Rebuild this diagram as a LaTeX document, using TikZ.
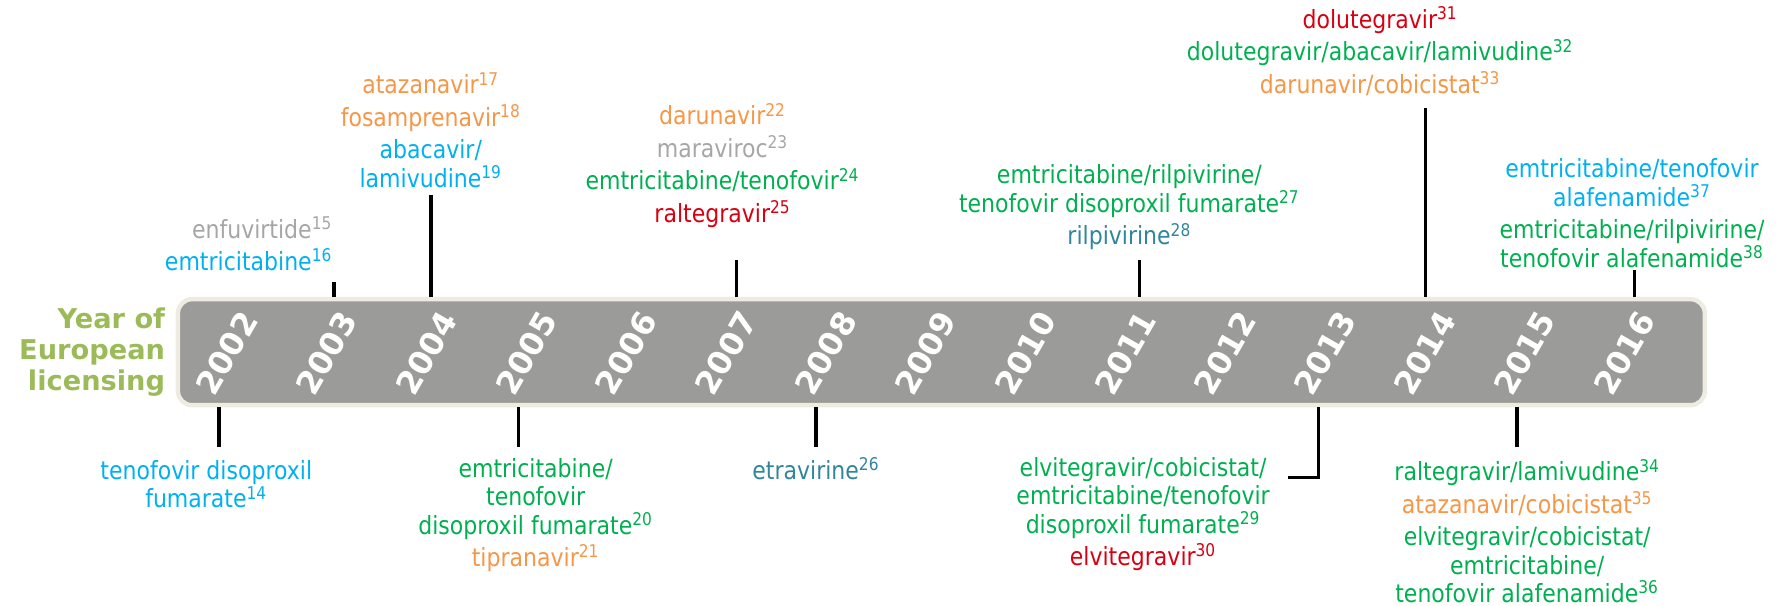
\documentclass[tikz,border=0pt]{standalone}
\usepackage{fontspec}
\setmainfont{DejaVu Sans}[FakeStretch=0.88]
\newfontfamily\headfont{DejaVu Sans}
\usepackage{xcolor}
\usetikzlibrary{positioning,calc}
\definecolor{nrti}{HTML}{00B0F0}
\definecolor{pi}{HTML}{F79646}
\definecolor{fdc}{HTML}{00B050}
\definecolor{insti}{HTML}{D80010}
\definecolor{nnrti}{HTML}{31859C}
\definecolor{ei}{HTML}{A6A6A6}
\definecolor{head}{HTML}{9BBB59}
\definecolor{bargray}{HTML}{9B9B9A}
\definecolor{rim}{HTML}{EEECE1}
\newcommand{\rf}[1]{\textsuperscript{#1}}
\newcommand{\drugsize}{\fontsize{12.5pt}{14.2pt}\selectfont}
\tikzset{
  drug/.style={align=center,inner sep=0pt,font=\drugsize},
  bar/.style={rectangle,draw=rim,line width=2.2pt,fill=bargray,rounded corners=7pt,minimum width=26.8cm,minimum height=1.86cm},
  yr/.style={rotate=60,text=white,font=\headfont\bfseries\fontsize{16pt}{16pt}\selectfont,inner sep=0pt},
  tk/.style={line width=1.7pt,black},
  head/.style={align=right,text=head,inner sep=0pt,font=\headfont\bfseries\fontsize{13.6pt}{15.4pt}\selectfont},
}

\begin{document}
\begin{tikzpicture}[x=0.02cm,y=-0.02cm]
  \useasboundingbox (0,0) rectangle (1568,531);
  \node[bar] (bar) at (826,309) {};
  \foreach \yr [count=\i from 0] in {2002,...,2016}
    \node[yr] (y\yr) at ({199+87.6*\i},310) {\yr};
  \node[head,left=0.18cm of bar] (head) {Year of\\European\\licensing};

  \node[drug,align=right,anchor=east] (d2003) at (292,214) {\textcolor{ei}{enfuvirtide\rf{15}}\\[2pt]\textcolor{nrti}{emtricitabine\rf{16}}};
  \node[drug] (d2004) at (378,114) {\textcolor{pi}{atazanavir\rf{17}}\\[2pt]\textcolor{pi}{fosamprenavir\rf{18}}\\[2pt]\textcolor{nrti}{abacavir/}\\\textcolor{nrti}{lamivudine\rf{19}}};
  \node[drug] (d2007) at (634,145) {\textcolor{pi}{darunavir\rf{22}}\\[2pt]\textcolor{ei}{maraviroc\rf{23}}\\[2pt]\textcolor{fdc}{emtricitabine/tenofovir\rf{24}}\\[2pt]\textcolor{insti}{raltegravir\rf{25}}};
  \node[drug] (d2011) at (991,182) {\textcolor{fdc}{emtricitabine/rilpivirine/}\\\textcolor{fdc}{tenofovir disoproxil fumarate\rf{27}}\\[2pt]\textcolor{nnrti}{rilpivirine\rf{28}}};
  \node[drug] (d2014) at (1211,45) {\textcolor{insti}{dolutegravir\rf{31}}\\[2pt]\textcolor{fdc}{dolutegravir/abacavir/lamivudine\rf{32}}\\[2pt]\textcolor{pi}{darunavir/cobicistat\rf{33}}};
  \node[drug] (d2016) at (1432,187) {\textcolor{nrti}{emtricitabine/tenofovir}\\\textcolor{nrti}{alafenamide\rf{37}}\\[2pt]\textcolor{fdc}{emtricitabine/rilpivirine/}\\\textcolor{fdc}{tenofovir alafenamide\rf{38}}};

  \node[drug] (d2002) at (181,425) {\textcolor{nrti}{tenofovir disoproxil}\\\textcolor{nrti}{fumarate\rf{14}}};
  \node[drug] (d2005) at (470,452) {\textcolor{fdc}{emtricitabine/}\\\textcolor{fdc}{tenofovir}\\\textcolor{fdc}{disoproxil fumarate\rf{20}}\\[2pt]\textcolor{pi}{tipranavir\rf{21}}};
  \node[drug] (d2008) at (716,411) {\textcolor{nnrti}{etravirine\rf{26}}};
  \node[drug] (d2013) at (1003,451) {\textcolor{fdc}{elvitegravir/cobicistat/}\\\textcolor{fdc}{emtricitabine/tenofovir}\\\textcolor{fdc}{disoproxil fumarate\rf{29}}\\[2pt]\textcolor{insti}{elvitegravir\rf{30}}};
  \node[drug] (d2015) at (1340,466) {\textcolor{fdc}{raltegravir/lamivudine\rf{34}}\\[2pt]\textcolor{pi}{atazanavir/cobicistat\rf{35}}\\[2pt]\textcolor{fdc}{elvitegravir/cobicistat/}\\\textcolor{fdc}{emtricitabine/}\\\textcolor{fdc}{tenofovir alafenamide\rf{36}}};

  \coordinate (t2003) at (293,247);
  \coordinate (t2004) at (378,171);
  \coordinate (t2007) at (646,228);
  \coordinate (t2011) at (1000,228);
  \coordinate (t2014) at (1251,95);
  \coordinate (t2016) at (1434,237);
  \coordinate (t2002) at (192,392);
  \coordinate (t2005) at (455,392);
  \coordinate (t2008) at (716,392);
  \coordinate (t2015) at (1331,392);
  \coordinate (t2013) at (1130,419);
  \foreach \t in {2003,2004,2007,2011,2014,2016}
    \draw[tk] (t\t |- bar.north) -- (t\t);
  \foreach \t in {2002,2005,2008,2015}
    \draw[tk] (t\t |- bar.south) -- (t\t);
  \draw[tk] ([xshift=0.54cm]t2013 |- bar.south) |- (t2013);
\end{tikzpicture}
\end{document}
